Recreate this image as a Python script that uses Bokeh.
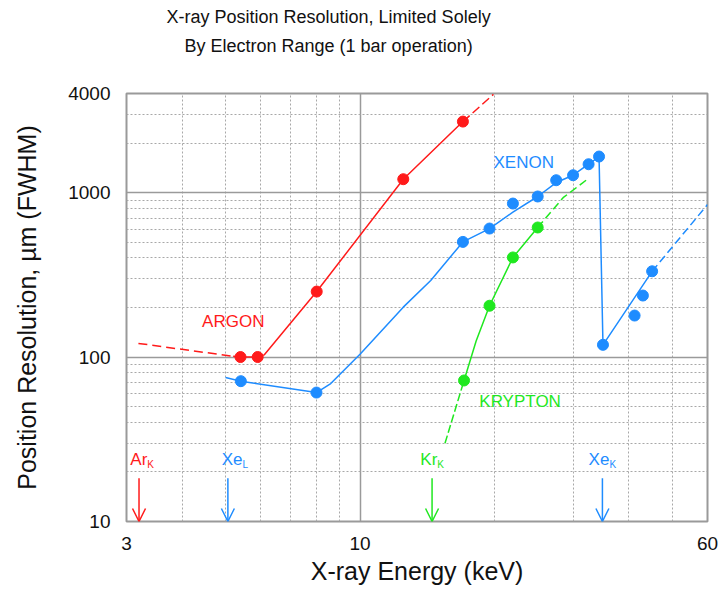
from bokeh.plotting import figure
from bokeh.models import FixedTicker, PrintfTickFormatter, Arrow, OpenHead, Title
from bokeh.core.properties import value
from bokeh.embed import file_html
from bokeh.resources import INLINE

FONT = "Liberation Sans"
RED = "#ff1a1a"
BLUE = "#1e8cff"
GREEN = "#1fe81f"

# Measured points: X-ray energy (keV) vs position resolution (um FWHM)
argon_energy = [5.4, 5.9, 8.0, 12.5, 17.0]
argon_res = [100, 100, 250, 1205, 2700]

xenon_energy = [5.41, 7.99, 17.0, 19.5, 22.0, 25.0, 27.5, 30.0, 32.5, 34.3,
                35.0, 41.2, 43.0, 45.1]
xenon_res = [71.3, 60.8, 501, 604, 857, 946, 1188, 1274, 1486, 1655,
             118.6, 178.7, 236.5, 332]

krypton_energy = [17.1, 19.5, 22.0, 25.0]
krypton_res = [72, 205, 403, 613]

# Guide curves (solid) and their extrapolations (dashed)
argon_curve_e = [5.2, 5.4, 5.9, 6.1, 8.0, 12.5, 17.0]
argon_curve_r = [101, 100, 100, 103, 250, 1205, 2700]
argon_low_e = [3.19, 5.2]
argon_low_r = [121, 101]
argon_high_e = [17.0, 19.9]
argon_high_r = [2700, 3950]

xenon_curve_e = [5.0, 5.41, 7.99, 8.6, 10.0, 12.5, 14.4, 17.0, 19.5, 22.0,
                 25.0, 27.5, 30.0, 32.5, 34.3, 35.0, 45.1]
xenon_curve_r = [75, 71.3, 60.8, 69, 104, 201, 292, 501, 604, 760,
                 946, 1150, 1274, 1486, 1655, 118.6, 332]
xenon_high_e = [45.1, 60.0]
xenon_high_r = [332, 845]

krypton_curve_e = [17.1, 18.2, 19.5, 22.0, 25.0]
krypton_curve_r = [72, 125, 205, 403, 613]
krypton_low_e = [15.5, 17.1]
krypton_low_r = [29.9, 72]
krypton_high_e = [25.0, 28.5, 32.6]
krypton_high_r = [613, 930, 1228]

# Absorption edges marked with arrows
edge_energy = [3.2, 5.06, 14.5, 34.9]
edge_names = ["Ar", "Xe", "Kr", "Xe"]
edge_subs = ["K", "L", "K", "K"]
edge_colors = [RED, BLUE, GREEN, BLUE]
edge_label_e = [3.06, 4.90, 13.65, 32.5]
edge_label_r = 22.1
edge_top, edge_bottom = 18.3, 10

# Gas names
gas_names = ["ARGON", "XENON", "KRYPTON"]
gas_name_e = [4.43, 19.9, 18.5]
gas_name_r = [154, 1413, 50]
gas_colors = [RED, BLUE, GREEN]

x_ticks = [3, 10, 60]
x_minor = [4, 5, 6, 7, 8, 9, 20, 30, 40, 50]
y_ticks = [10, 100, 1000, 4000]
y_minor = [20, 30, 40, 50, 60, 70, 80, 90,
           200, 300, 400, 500, 600, 700, 800, 900, 2000, 3000]

p = figure(width=720, height=596, x_axis_type="log", y_axis_type="log",
           x_range=(3, 60), y_range=(10, 4000),
           output_backend="svg", toolbar_location=None,
           min_border_left=126, min_border_right=13,
           min_border_top=93, min_border_bottom=75,
           background_fill_color="white", border_fill_color="white")

# Two-line title, each line centred on the other; a blank spacer keeps
# the lines clear of the plot frame
title_style = dict(text_font=FONT, text_font_size="18px",
                   text_font_style="normal", text_color="#111111",
                   align="left")
p.title.text = "X-ray Position Resolution, Limited Solely"
p.title.text_font = FONT
p.title.text_font_size = "18px"
p.title.text_font_style = "normal"
p.title.text_color = "#111111"
p.title.align = "left"
p.title.offset = 40
p.title.standoff = 9
p.add_layout(Title(text=" ", text_font_size="1px", standoff=33), "above")
p.add_layout(Title(text="By Electron Range (1 bar operation)", offset=58,
                   standoff=4, **title_style), "above")

p.outline_line_color = "#9a9a9a"
p.outline_line_width = 2

p.xaxis.ticker = FixedTicker(ticks=x_ticks, minor_ticks=x_minor)
p.yaxis.ticker = FixedTicker(ticks=y_ticks, minor_ticks=y_minor)
p.axis.formatter = PrintfTickFormatter(format="%d")
p.axis.axis_line_color = None
p.axis.major_tick_line_color = None
p.axis.minor_tick_line_color = None
p.axis.major_tick_out = 0
p.axis.minor_tick_out = 0
p.axis.major_label_text_font = FONT
p.axis.major_label_text_font_size = "19px"
p.axis.major_label_text_color = "#111111"
p.axis.axis_label_text_font = FONT
p.axis.axis_label_text_font_size = "25px"
p.axis.axis_label_text_font_style = "normal"
p.axis.axis_label_text_color = "#111111"
p.xaxis.axis_label = "X-ray Energy (keV)"
p.yaxis.axis_label = "Position Resolution, \u00b5m (FWHM)"
p.xaxis.major_label_standoff = 15
p.yaxis.major_label_standoff = 16
p.xaxis.axis_label_standoff = 4
p.yaxis.axis_label_standoff = 24

for g in (p.xgrid, p.ygrid):
    g.grid_line_color = "#9a9a9a"
    g.grid_line_width = 1.5
    g.minor_grid_line_color = "#a8a8a8"
    g.minor_grid_line_dash = "2 2"
    g.minor_grid_line_width = 1

# Curves
p.line(argon_curve_e, argon_curve_r, line_color=RED, line_width=1.5)
p.line(argon_low_e, argon_low_r, line_color=RED, line_width=1.5, line_dash="9 5")
p.line(argon_high_e, argon_high_r, line_color=RED, line_width=1.5, line_dash="9 4")

p.line(xenon_curve_e, xenon_curve_r, line_color=BLUE, line_width=1.5)
p.line(xenon_high_e, xenon_high_r, line_color=BLUE, line_width=1.5, line_dash="8 4")

p.line(krypton_curve_e, krypton_curve_r, line_color=GREEN, line_width=1.5)
p.line(krypton_low_e, krypton_low_r, line_color=GREEN, line_width=1.5, line_dash="8 3")
p.line(krypton_high_e, krypton_high_r, line_color=GREEN, line_width=1.5, line_dash="8 4")

# Measured points
p.scatter(argon_energy, argon_res, size=11, color=RED)
p.scatter(xenon_energy, xenon_res, size=11, color=BLUE)
p.scatter(krypton_energy, krypton_res, size=11, color=GREEN)

# Gas labels
p.text(x=gas_name_e, y=gas_name_r, text=gas_names, text_color=gas_colors,
       text_font=value(FONT), text_font_size="17px", y_offset=-5,
       text_align="left", text_baseline="alphabetic")

# Edge arrows with labels and subscripts
char_w = {"A": 0.667, "X": 0.667, "K": 0.667, "r": 0.333, "e": 0.556}
for e, name, sub, col, le in zip(edge_energy, edge_names, edge_subs,
                                 edge_colors, edge_label_e):
    p.add_layout(Arrow(x_start=e, y_start=edge_top, x_end=e, y_end=edge_bottom,
                       line_color=col, line_width=1.5,
                       end=OpenHead(size=13, line_color=col, line_width=1.5)))
    p.text(x=[le], y=[edge_label_r], text=[name], text_color=col,
           text_font=value(FONT), text_font_size="17px", y_offset=-5,
           text_align="left", text_baseline="alphabetic")
    w = sum(char_w[c] for c in name) * 17
    p.text(x=[le], y=[edge_label_r], text=[sub], text_color=col,
           text_font=value(FONT), text_font_size="10px",
           x_offset=w, y_offset=0,
           text_align="left", text_baseline="alphabetic")

open("out.html", "w").write(file_html(p, INLINE))
